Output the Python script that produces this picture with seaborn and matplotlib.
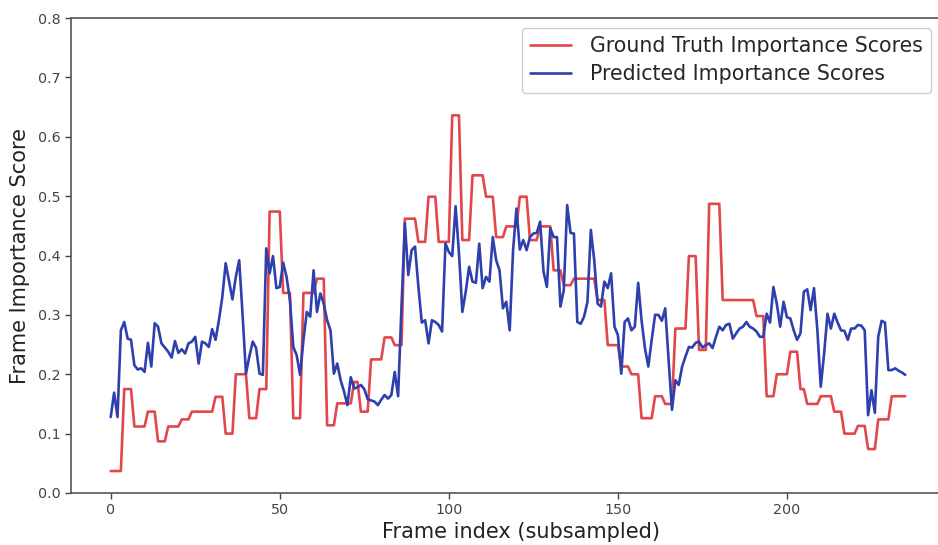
import numpy as np
import pandas as pd
import matplotlib
matplotlib.use("Agg")
import matplotlib.pyplot as plt
import seaborn as sns

ground_truth = [
    0.037, 0.037, 0.037, 0.037, 0.175, 0.175, 0.175, 0.112, 0.112, 0.112,
    0.112, 0.137, 0.137, 0.137, 0.087, 0.087, 0.087, 0.112, 0.112, 0.112,
    0.112, 0.124, 0.124, 0.124, 0.137, 0.137, 0.137, 0.137, 0.137, 0.137,
    0.137, 0.162, 0.162, 0.162, 0.100, 0.100, 0.100, 0.200, 0.200, 0.200,
    0.200, 0.126, 0.126, 0.126, 0.175, 0.175, 0.175, 0.474, 0.474, 0.474,
    0.474, 0.337, 0.337, 0.337, 0.126, 0.126, 0.126, 0.337, 0.337, 0.337,
    0.337, 0.361, 0.361, 0.361, 0.114, 0.114, 0.114, 0.151, 0.151, 0.151,
    0.151, 0.151, 0.187, 0.187, 0.137, 0.137, 0.137, 0.225, 0.225, 0.225,
    0.225, 0.262, 0.262, 0.262, 0.249, 0.249, 0.249, 0.462, 0.462, 0.462,
    0.462, 0.423, 0.423, 0.423, 0.499, 0.499, 0.499, 0.423, 0.423, 0.423,
    0.423, 0.636, 0.636, 0.636, 0.426, 0.426, 0.426, 0.535, 0.535, 0.535,
    0.535, 0.499, 0.499, 0.499, 0.431, 0.431, 0.431, 0.449, 0.449, 0.449,
    0.449, 0.499, 0.499, 0.499, 0.426, 0.426, 0.426, 0.449, 0.449, 0.449,
    0.449, 0.375, 0.375, 0.375, 0.350, 0.350, 0.350, 0.361, 0.361, 0.361,
    0.361, 0.361, 0.361, 0.361, 0.325, 0.325, 0.325, 0.249, 0.249, 0.249,
    0.249, 0.213, 0.213, 0.213, 0.200, 0.200, 0.200, 0.126, 0.126, 0.126,
    0.126, 0.163, 0.163, 0.163, 0.150, 0.150, 0.150, 0.277, 0.277, 0.277,
    0.277, 0.399, 0.399, 0.399, 0.241, 0.241, 0.241, 0.487, 0.487, 0.487,
    0.487, 0.325, 0.325, 0.325, 0.325, 0.325, 0.325, 0.325, 0.325, 0.325,
    0.325, 0.298, 0.298, 0.298, 0.163, 0.163, 0.163, 0.200, 0.200, 0.200,
    0.200, 0.238, 0.238, 0.238, 0.175, 0.175, 0.150, 0.150, 0.150, 0.150,
    0.163, 0.163, 0.163, 0.163, 0.137, 0.137, 0.137, 0.100, 0.100, 0.100,
    0.100, 0.113, 0.113, 0.113, 0.074, 0.074, 0.074, 0.124, 0.124, 0.124,
    0.124, 0.163, 0.163, 0.163, 0.163, 0.163,
]

predicted = [
    0.128, 0.169, 0.128, 0.274, 0.288, 0.260, 0.258, 0.215, 0.208, 0.210,
    0.204, 0.253, 0.213, 0.286, 0.280, 0.252, 0.245, 0.238, 0.228, 0.256,
    0.236, 0.242, 0.235, 0.252, 0.255, 0.263, 0.218, 0.255, 0.252, 0.246,
    0.276, 0.258, 0.291, 0.330, 0.387, 0.356, 0.326, 0.364, 0.392, 0.300,
    0.201, 0.230, 0.255, 0.244, 0.201, 0.199, 0.412, 0.370, 0.399, 0.345,
    0.347, 0.388, 0.364, 0.325, 0.246, 0.232, 0.199, 0.258, 0.305, 0.297,
    0.375, 0.305, 0.336, 0.319, 0.291, 0.274, 0.201, 0.218, 0.190, 0.171,
    0.148, 0.195, 0.176, 0.178, 0.182, 0.175, 0.158, 0.156, 0.154, 0.148,
    0.157, 0.165, 0.159, 0.165, 0.204, 0.163, 0.314, 0.454, 0.367, 0.409,
    0.415, 0.347, 0.287, 0.291, 0.252, 0.291, 0.288, 0.283, 0.272, 0.420,
    0.406, 0.399, 0.483, 0.404, 0.305, 0.339, 0.381, 0.356, 0.354, 0.420,
    0.345, 0.364, 0.356, 0.431, 0.392, 0.375, 0.311, 0.322, 0.274, 0.409,
    0.479, 0.410, 0.426, 0.409, 0.431, 0.437, 0.438, 0.457, 0.373, 0.347,
    0.446, 0.431, 0.431, 0.314, 0.342, 0.485, 0.438, 0.437, 0.288, 0.285,
    0.297, 0.322, 0.443, 0.392, 0.319, 0.314, 0.356, 0.345, 0.370, 0.280,
    0.266, 0.201, 0.288, 0.294, 0.274, 0.280, 0.354, 0.291, 0.244, 0.213,
    0.258, 0.300, 0.300, 0.290, 0.311, 0.224, 0.140, 0.190, 0.182, 0.213,
    0.230, 0.246, 0.245, 0.253, 0.255, 0.245, 0.249, 0.252, 0.244, 0.263,
    0.280, 0.274, 0.283, 0.285, 0.260, 0.269, 0.277, 0.280, 0.288, 0.280,
    0.277, 0.272, 0.263, 0.263, 0.302, 0.287, 0.347, 0.319, 0.280, 0.322,
    0.296, 0.294, 0.274, 0.258, 0.269, 0.339, 0.343, 0.308, 0.345, 0.274,
    0.179, 0.235, 0.302, 0.277, 0.302, 0.287, 0.274, 0.273, 0.258, 0.277,
    0.277, 0.283, 0.282, 0.274, 0.131, 0.173, 0.135, 0.263, 0.290, 0.287,
    0.207, 0.207, 0.210, 0.206, 0.203, 0.199,
]

x_ticks = [0, 50, 100, 150, 200]
y_ticks = [0.0, 0.1, 0.2, 0.3, 0.4, 0.5, 0.6, 0.7, 0.8]
series_labels = ["Ground Truth Importance Scores", "Predicted Importance Scores"]
series_colors = ["#e2474c", "#2e3fae"]

frames = np.arange(len(ground_truth))
df = pd.DataFrame({
    "frame": np.concatenate([frames, np.arange(len(predicted))]),
    "score": np.concatenate([ground_truth, predicted]),
    "series": [series_labels[0]] * len(ground_truth) + [series_labels[1]] * len(predicted),
})

sns.set_theme(style="ticks")
plt.rcParams["font.family"] = ["DejaVu Sans"]

fig = plt.figure(figsize=(9.38, 5.45), dpi=100)
# axes extends slightly beyond the right edge of the canvas (cropped as in the reference)
ax_left, ax_w = 71, 900
ax = fig.add_axes([ax_left / 938, (545 - 493) / 545, ax_w / 938, 475 / 545])

sns.lineplot(data=df, x="frame", y="score", hue="series",
             palette=dict(zip(series_labels, series_colors)),
             linewidth=1.9, ax=ax, legend=True)

n = len(ground_truth) - 1
x_lo = -0.05 * n
px_per_unit = 874 / (1.1 * n)
ax.set_xlim(x_lo, x_lo + ax_w / px_per_unit)
ax.set_ylim(0.0, 0.8)
ax.set_xticks(x_ticks)
ax.set_yticks(y_ticks)
ax.set_yticklabels([f"{v:.1f}" for v in y_ticks])
ax.tick_params(axis="both", labelsize=10.3, colors="#444444", length=4, width=1)
for sp in ax.spines.values():
    sp.set_color("#555555")
    sp.set_linewidth(1.2)

ax.set_xlabel("Frame index (subsampled)", fontsize=15, color="#222222", labelpad=3)
ax.set_ylabel("Frame Importance Score", fontsize=15, color="#222222", labelpad=6)

handles, labels = ax.get_legend_handles_labels()
leg = ax.legend(handles=handles, labels=labels, loc="upper right",
                bbox_to_anchor=(931 / 938, 1 - 28 / 545), bbox_transform=fig.transFigure,
                borderaxespad=0.0, fontsize=14.8,
                frameon=True, fancybox=True, framealpha=1.0, edgecolor="#cccccc",
                handlelength=2.0, handletextpad=0.9, labelspacing=0.4)
for line in leg.get_lines():
    line.set_linewidth(1.9)

fig.savefig("out.png", dpi=100)
